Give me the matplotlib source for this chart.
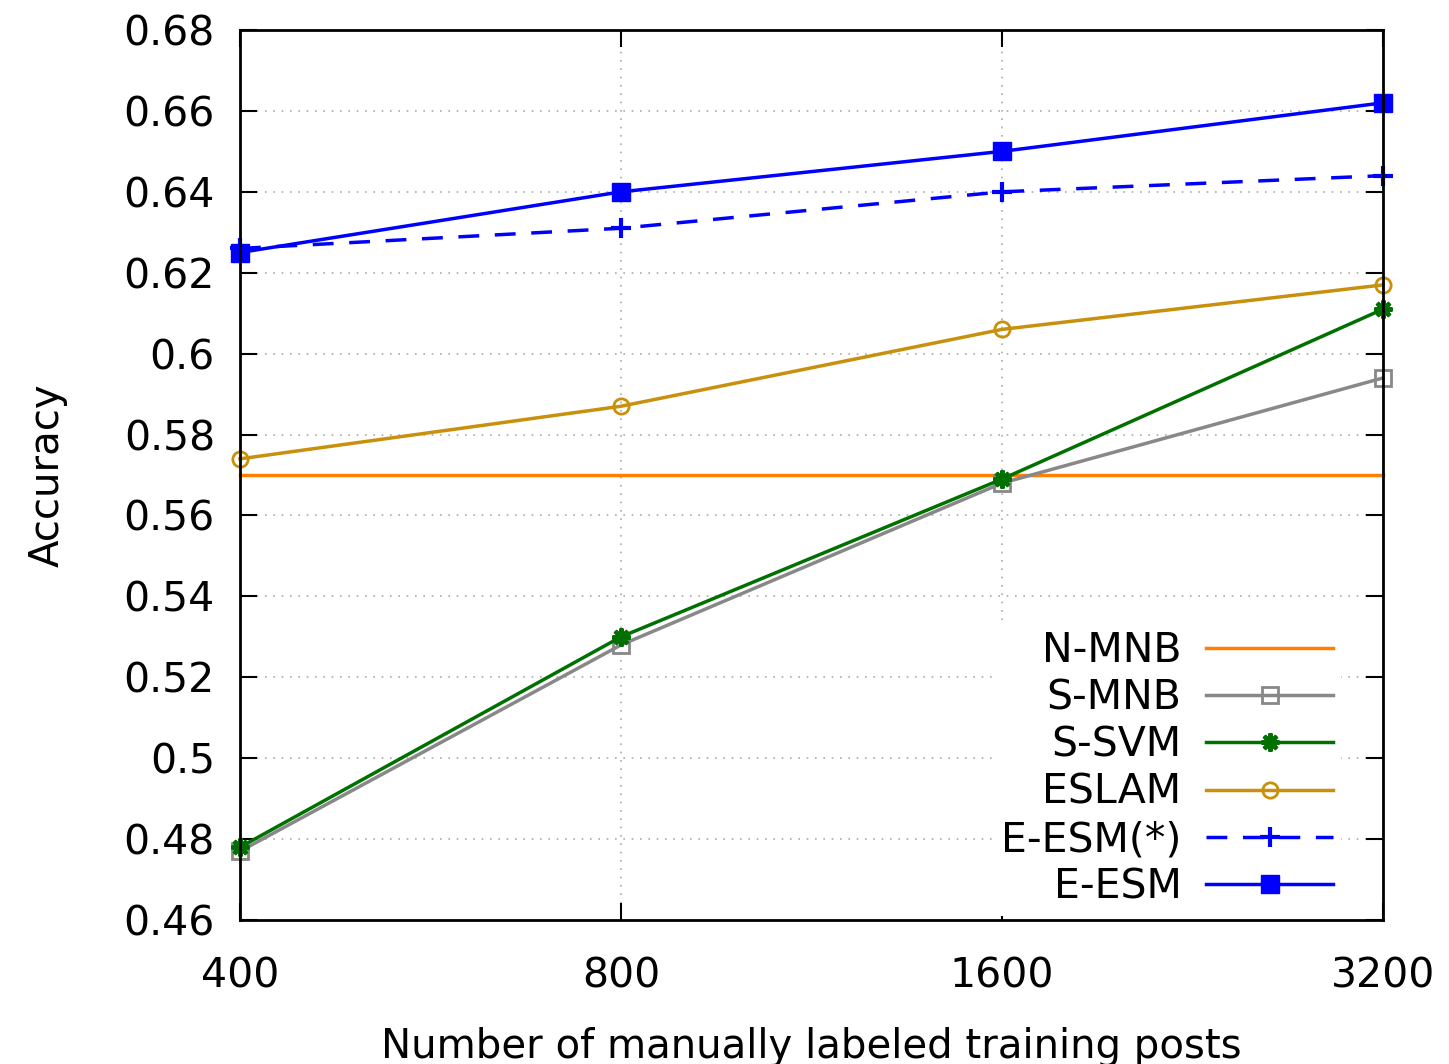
import matplotlib
matplotlib.use("Agg")
import matplotlib.pyplot as plt

# training sizes (log2 spaced) and accuracies
sizes = [400, 800, 1600, 3200]
n_mnb = [0.570, 0.570, 0.570, 0.570]
s_mnb = [0.477, 0.528, 0.568, 0.594]
s_svm = [0.478, 0.530, 0.569, 0.611]
eslam = [0.574, 0.587, 0.606, 0.617]
e_esm_star = [0.626, 0.631, 0.640, 0.644]
e_esm = [0.625, 0.640, 0.650, 0.662]

yticks = [0.46, 0.48, 0.5, 0.52, 0.54, 0.56, 0.58, 0.6, 0.62, 0.64, 0.66, 0.68]
ylabels = ["0.46", "0.48", "0.5", "0.52", "0.54", "0.56", "0.58", "0.6",
           "0.62", "0.64", "0.66", "0.68"]

plt.rcParams['font.family'] = ['DejaVu Sans']

fig = plt.figure(figsize=(14.49, 10.64), dpi=100)
ax = fig.add_axes([0.1656, 0.1353, 0.7889, 0.8365])

lw = 2.5
ax.plot(sizes, n_mnb, color="#ff8000", lw=lw, label="N-MNB", clip_on=False)
ax.plot(sizes, s_mnb, color="#888888", lw=lw, marker="s", ms=11, mfc="none",
        mew=2, label="S-MNB", clip_on=False)
ax.plot(sizes, s_svm, color="#007000", lw=lw, marker=(8, 2, 0), ms=13, mew=3,
        label="S-SVM", clip_on=False)
ax.plot(sizes, eslam, color="#c8900c", lw=lw, marker="o", ms=11, mfc="none",
        mew=2, label="ESLAM", clip_on=False)
ax.plot(sizes, e_esm_star, color="#0000ff", lw=lw, ls=(0, (6, 4.5)),
        marker="+", ms=15, mew=3, label="E-ESM(*)", clip_on=False)
ax.plot(sizes, e_esm, color="#0000ff", lw=lw, marker="s", ms=13,
        label="E-ESM", clip_on=False)

ax.set_xscale("log", base=2)
ax.set_xlim(400, 3200)
ax.set_ylim(0.46, 0.68)
ax.set_xticks(sizes)
ax.set_xticklabels([str(s) for s in sizes])
ax.minorticks_off()
ax.set_yticks(yticks)
ax.set_yticklabels(ylabels)

ax.grid(True, color="#aaaaaa", ls=(0, (1, 4)), lw=1.2)
ax.tick_params(direction="in", length=12, width=1.5, labelsize=29.5,
               top=True, right=True)
ax.tick_params(axis="y", pad=18)
ax.tick_params(axis="x", pad=26)
for s in ax.spines.values():
    s.set_linewidth(2)

ax.set_xlabel("Number of manually labeled training posts", fontsize=29,
              labelpad=22)
ax.set_ylabel("Accuracy", fontsize=29, labelpad=40)

leg = ax.legend(loc="lower right", fontsize=29.5, markerfirst=False,
                frameon=True, framealpha=1, edgecolor="none", fancybox=False,
                handlelength=3.1, labelspacing=0.18, borderaxespad=0.1,
                handletextpad=0.6, borderpad=0.2,
                bbox_to_anchor=(0.967, 0.0))
for t in leg.get_texts():
    t.set_ha("right")
leg._legend_box.align = "right"

fig.savefig("out.png", dpi=100)
